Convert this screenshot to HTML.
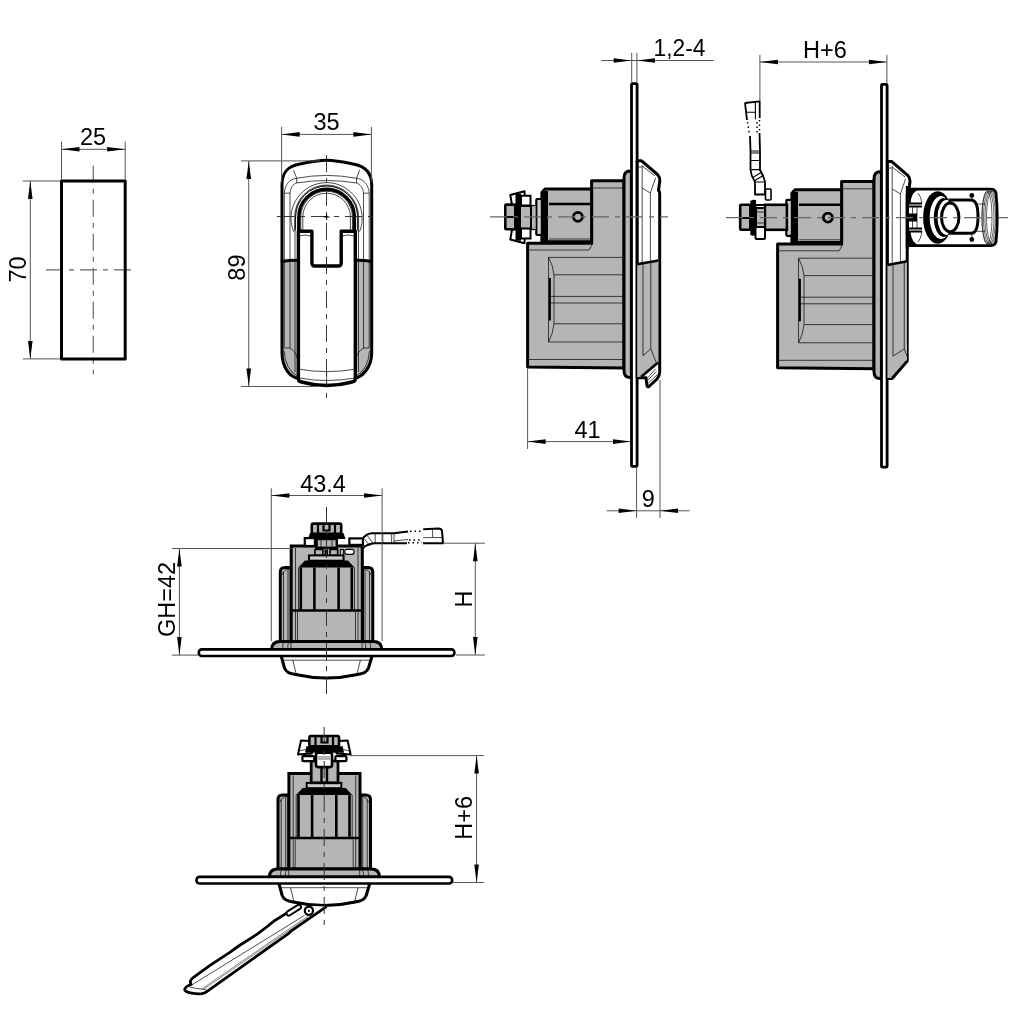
<!DOCTYPE html>
<html><head><meta charset="utf-8">
<style>
html,body{margin:0;padding:0;background:#fff;width:1024px;height:1024px;overflow:hidden}
svg{display:block;will-change:transform}
text{font-family:"Liberation Sans",sans-serif;fill:#000}
.o{fill:none;stroke:#000;stroke-width:3;stroke-linejoin:round;stroke-linecap:round}
.t{fill:none;stroke:#000;stroke-width:0.7}
.d{fill:none;stroke:#555;stroke-width:1}
.c{fill:none;stroke:#666;stroke-width:1.2;stroke-dasharray:17 6 5 6}
.g{fill:#b5b5b5}
.a{fill:#000}
</style></head><body>
<svg width="1024" height="1024" viewBox="0 0 1024 1024">
<defs>
<marker id="ar" viewBox="0 0 18 5" refX="18" refY="2.5" markerWidth="18" markerHeight="5" markerUnits="userSpaceOnUse" orient="auto-start-reverse" overflow="visible"><path d="M18,2.5 L0,0.2 L0,4.8 Z" fill="#000"/></marker>
</defs>
<!-- VIEW 1 -->
<g id="v1">
<path class="c" d="M93.3,165.7 V374.3 M46,269.8 H136"/>
<rect class="o" x="61.5" y="181" width="63.7" height="177.9" fill="none"/>
<path class="d" d="M61.5,141.5 V180 M125.2,141.5 V180 M22.7,181 H60 M22.7,358.9 H60"/>
<path class="d" d="M61.5,149.3 H125.2" marker-start="url(#ar)" marker-end="url(#ar)"/>
<path class="d" d="M30.3,181 V358.9" marker-start="url(#ar)" marker-end="url(#ar)"/>
<text x="93" y="145.2" font-size="23.5" text-anchor="middle">25</text>
<text transform="translate(26.4,269.5) rotate(-90)" font-size="23.5" text-anchor="middle">70</text>
</g>

<!-- VIEW 2 -->
<g id="v2">
<defs><clipPath id="v2low"><rect x="270" y="261" width="28.4" height="130"/><rect x="355.3" y="261" width="30" height="130"/></clipPath>
<path id="v2shell" d="M282,352.8 V185 C282,172 288,166 300,164 C312,161.5 320,160.3 326.6,160.3 C333,160.3 341,161.5 353,164 C365,166 371.7,172 371.7,185 V352.8 C371.7,368 362,377 354.5,378.5 H298.5 C290,377 282,368 282,352.8 Z"/>
</defs>
<use href="#v2shell" fill="#fff"/>
<use href="#v2shell" class="g" clip-path="url(#v2low)"/>
<!-- band inner lines -->
<path class="t" d="M284.3,193 V348 M290,193 V348 M295,231 V372 M358.5,231 V372 M363.5,193 V348 M369.2,193 V348"/>
<path class="t" d="M284.3,348 H289.5 Q296,351 297.5,358.7 M369.2,348 H364 Q357.5,351 356,358.7 M284,351 Q285.5,370 297.5,376 M369.5,351 Q368,370 356,376"/>
<!-- top decorative lines -->
<path class="t" d="M293.5,170 L296.7,178.3 Q326.6,172.5 356.5,178.3 L359.6,170 M296.7,178.3 V183 Q326.6,178 356.5,183 V178.3 M296.7,178.3 C290,179 285,184 284.3,193 M296.7,183 C293,184 290.5,188 290,193 M284.3,193.2 H290 M356.5,178.3 C363,179 368.5,184 369.2,193 M356.5,183 C360,184 363,188 363.5,193 M363.5,193.2 H369.2"/>
<path class="t" d="M293.7,231.8 A35.6,35.6 0 1 1 359.5,231.8"/>
<path class="t" d="M295.5,229 V217 A31.1,31.1 0 0 1 357.7,217 V229 M300.8,231 V217 A25.8,25.8 0 0 1 352.4,217 V231"/>
<path style="stroke-width:3.4" class="o" d="M298.8,231.2 V217 A27.8,27.8 0 0 1 354.4,217 V231.2"/><path class="t" d="M294.6,231 V217 A32,32 0 0 1 358.6,217 V231 M295.6,231 V217 A31,31 0 0 1 357.6,217 V231 M302.8,231 V217 A23.8,23.8 0 0 1 350.4,217 V231"/>
<use style="stroke-width:3" href="#v2shell" class="o"/>
<!-- slider -->
<path fill="#fff" stroke="#000" stroke-width="3.4" stroke-linejoin="round" d="M298.4,231.2 H311.9 V262.7 Q311.9,266 315,266 H338.2 Q341.2,266 341.2,262.7 V231.2 H355.3 V379 Q355.3,381.5 352,382 Q326.6,389 301.5,382 Q298.4,381.5 298.4,379 Z"/>
<path class="t" d="M299,369.2 Q326.6,374 355,369.2 M299,378 Q326.6,383 355,378 M326.6,372 V386"/>
<path class="t" d="M299,236 Q305,234 311,236 M342,236 Q348,234 354.5,236"/>
<!-- band top thick line -->
<path style="stroke-width:3" class="o" d="M282,261.5 Q289,260 298.4,260.2 M355.3,260.2 Q364,260 371.7,261.5"/>

<path style="stroke:#222;stroke-width:0.9" class="c" d="M326.5,155 V398 M277,216.5 H378.5"/>
<path style="stroke:#000" class="d" d="M326.6,214 V220 M323.6,217 H329.6"/>
<!-- dims -->
<path class="d" d="M281.6,126.9 V182 M371.4,126.9 V182 M241,160.9 H320 M241,386.5 H320"/>
<path class="d" d="M281.6,134.4 H371.4" marker-start="url(#ar)" marker-end="url(#ar)"/>
<path class="d" d="M248.75,160.9 V386.5" marker-start="url(#ar)" marker-end="url(#ar)"/>
<text x="326.6" y="129.7" font-size="23.5" text-anchor="middle">35</text>
<text transform="translate(245.4,267.6) rotate(-90)" font-size="23.5" text-anchor="middle">89</text>
</g>

<!-- VIEW 3 & 4 -->
<defs>
<g id="body">
<path class="g" stroke="#000" stroke-width="3" stroke-linejoin="round" d="M527.6,243.3 H591.6 V180.7 H624 V367.9 L527.6,367 Z"/>
<path class="t" d="M528.5,250 H589 L592.5,244 M548.2,257.4 H624 M528,359.5 H624 M548.5,257.4 V342 H624 M548.5,257.4 Q553,265 554,274.8 V323.8 Q553,334 548.5,342 M554,274.8 H624 M554,323.8 H624 M549,296.4 H624 M549,303 H624 M592,188 H624 M624,188 H631 M624,257.4 H631 M624,274.8 H631 M624,296.4 H631 M624,303 H631 M624,323.8 H631 M624,342 H631 M624,359.5 H631"/>
<path stroke="#000" stroke-width="2.2" fill="none" d="M549.8,278 V320.5"/>
<path class="g" stroke="#000" stroke-width="3" stroke-linejoin="round" d="M591.6,189 H545 L541.9,192.5 V241.8 H591.6 Z"/>
<path stroke="#000" stroke-width="5" d="M545.5,191 V241"/>
<path stroke="#000" stroke-width="2.4" d="M549,204 H591.6"/>
<path class="t" d="M549,239 H591.6"/>
<circle cx="577.9" cy="216.8" r="4.5" fill="#b5b5b5" stroke="#000" stroke-width="2.8"/>
<rect x="536.3" y="199" width="5.6" height="36" fill="#ccc" stroke="#000" stroke-width="2.2" rx="1"/>
<path class="g" stroke="#000" stroke-width="3" stroke-linejoin="round" d="M631.4,171 H630 Q624,171 624,178 V370.6 Q624,377.6 630,377.6 H631.4 Z"/>
<rect x="631.5" y="83.6" width="5.6" height="382.8" fill="#fff" stroke="#000" stroke-width="2.8" rx="1"/>
</g>
</defs>
<g id="v3">
<use href="#body"/>
<path fill="#fff" stroke="#000" stroke-width="3" stroke-linejoin="round" d="M637.2,160.8 H641.6 L657.5,174.5 Q660,177 659.8,181 L658.5,190.5 Q659.7,191 659.7,195 V372 Q659.7,376 657,379 L649,386.5 Q647.5,387.5 647,385.5 L646,377.7 H637.2 Z"/>
<path class="g" d="M637.2,264.2 L658.3,260.5 V362.5 L641,377 H637.2 Z"/>
<path stroke="#000" stroke-width="2.6" fill="none" d="M637.2,264.2 L658.3,260.5 M658,362.5 L641,377.1"/>
<path class="t" d="M642.2,165 V264 M650.4,193 V260.5 M642.2,166 L655,176 M642.2,188 L650.4,193 L655.5,178 M643,264 V355.7 M650.8,260.5 V348.8 L656,362 M643,355.7 L650.8,348.8 M637.2,167 H642"/>

<rect x="530.8" y="205.5" width="5.5" height="24" fill="#b5b5b5" stroke="#000" stroke-width="1.2"/>
<rect x="520" y="206" width="11" height="23" fill="#b5b5b5" stroke="#000" stroke-width="2"/>
<path fill="#fff" stroke="#000" stroke-width="2" stroke-linejoin="round" d="M510.3,195 L524.5,191.2 L525,205 L512,205 Z M510.3,239.5 L524.5,243.3 L525,229.5 L512,229.5 Z"/>
<path fill="#fff" stroke="#000" stroke-width="2" d="M521,195.7 H530.5 V205.5 H521 Z M521,228.6 H530.5 V238.5 H521 Z"/>
<rect x="505.3" y="204.6" width="10" height="24.6" fill="#b5b5b5" stroke="#000" stroke-width="2.6" rx="1"/>
<path stroke="#000" stroke-width="2" d="M505.3,217 H515"/>
<rect x="515.5" y="193.7" width="5.5" height="47" fill="#000"/>
<path class="t" d="M648.5,383 L657.5,374.5 M648,380 L656.5,371.5 M647.5,378 L655.5,369"/>
<path class="c" d="M490,216.8 H668"/>
<path class="d" d="M631.7,52.8 V82 M636.9,52.8 V82 M527.6,369 V449 M636.6,468 V518 M660,380 V518"/>
<path class="d" d="M601.2,60.5 H713.7"/>
<path class="a" d="M631.7,60.5 L613.7,58.2 V62.8 Z M636.9,60.5 L654.9,58.2 V62.8 Z"/>
<path class="d" d="M527.6,441.6 H631" marker-start="url(#ar)" marker-end="url(#ar)"/>
<path class="d" d="M606.7,510.8 H689.7"/>
<path class="a" d="M636.6,510.8 L618.6,508.5 V513.1 Z M660,510.8 L678,508.5 V513.1 Z"/>
<text transform="translate(679.5,56.4) scale(0.95,1)" font-size="24" text-anchor="middle">1,2-4</text>
<text x="587.6" y="438.1" font-size="23.5" text-anchor="middle">41</text>
<text x="648.2" y="507.1" font-size="23.5" text-anchor="middle">9</text>
</g>
<g id="v4">
<use href="#body" transform="translate(250,0.8)"/>
<path fill="#fff" stroke="#000" stroke-width="3" stroke-linejoin="round" d="M887.4,161.6 H891.8 L907.7,175.3 Q910.2,177.8 910,181.8 L908.7,191.3 Q907.2,192 907.2,196 V361 L892,378.4 H887.4 Z"/>
<path class="g" d="M887.4,265 L907,261.3 V361 L892,378 H887.4 Z"/>
<path stroke="#000" stroke-width="2.6" fill="none" d="M887.4,265 L907.2,261.3 M907.2,361 L892,378.4"/>
<path class="t" d="M892.2,166 V265 M900.4,194 V261.3 M892.2,167 L905,177 M892.2,189 L900.4,194 L905.5,179 M893,265 V356 M904.25,261.3 V349 L907,356 M893,356 L904.25,349 M887.4,168 H892"/>

<!-- shaft -->
<rect x="764.9" y="204.8" width="22" height="25" fill="#b5b5b5" stroke="#000" stroke-width="2.6"/>
<!-- spacer (white) -->
<rect x="755.5" y="205" width="9.5" height="34" fill="#fff" stroke="#000" stroke-width="2" rx="1"/>
<path fill="#b5b5b5" stroke="#000" stroke-width="2" d="M756,208 H765 V227 H756 Z"/>
<path class="t" d="M756,212 H765 M756,223 H765"/>
<!-- nut -->
<rect x="740.2" y="204.8" width="10.1" height="25" fill="#b5b5b5" stroke="#000" stroke-width="2.6" rx="1"/>
<path stroke="#000" stroke-width="2" d="M740.2,218 H750"/>
<path fill="#000" d="M750.3,201 Q753,199 756,200 V235 Q753,236.5 750.3,235 Z"/>
<!-- lever -->
<path fill="#fff" stroke="#000" stroke-width="1.8" stroke-linejoin="round" d="M744.8,103 L759.7,101.3 V118 M745,103 L747,120 M750,136 L750.5,151 V170 Q751,176 755,182 V194.5 H765 V182 Q764,177 760,170 V151 L759.5,133"/>
<path fill="none" stroke="#000" stroke-width="1.1" d="M746,112.2 H755.4 M755.4,102.5 V119.2 M750.5,151 H760 M750.5,153 H760 M750.5,160.5 H760 M750.5,169.6 H760 M752,178 L762,172 M754,181 L764,175 M755,182 H764.5"/>
<path stroke="#000" stroke-width="1.5" stroke-dasharray="1.5 3" d="M747.5,122 L749.5,135 M759.5,120 V133 M757,122 V134"/>
<rect x="765.5" y="189" width="5.5" height="11" fill="#fff" stroke="#000" stroke-width="1.6" rx="1"/>
<!-- lock cylinder -->
<defs><clipPath id="cyl"><path d="M907.6,189.2 H991 Q995,189.2 996,193 Q998.5,217.5 996,242 Q995,245.6 991,245.6 H907.6 Z"/></clipPath></defs>
<path fill="#fff" d="M907.6,189.2 H991 Q995,189.2 996,193 Q998.5,217.5 996,242 Q995,245.6 991,245.6 H907.6 Z"/>
<g clip-path="url(#cyl)">
<ellipse cx="988" cy="217.5" rx="6" ry="26.5" fill="none" stroke="#000" stroke-width="0.6"/>
<ellipse cx="989.5" cy="217.5" rx="6" ry="26.5" fill="none" stroke="#000" stroke-width="0.6"/>
<ellipse cx="991" cy="217.5" rx="6" ry="26.5" fill="none" stroke="#000" stroke-width="0.6"/>
<ellipse cx="992.5" cy="217.5" rx="6" ry="26.5" fill="none" stroke="#000" stroke-width="0.6"/>
<ellipse cx="987" cy="217.5" rx="5" ry="26" fill="none" stroke="#000" stroke-width="0.6"/>
<path class="t" d="M976,204 H985 M976,231.3 H985"/>
<path fill="#000" d="M907.6,189.2 H920 Q911.5,191 910.5,203 H907.6 Z M907.6,245.6 H920 Q911.5,243.8 910.5,232 H907.6 Z"/>
<path fill="none" stroke="#000" stroke-width="1.8" d="M909,203.5 H922 M909,231.5 H922 M909,206.5 H922 M909,228.5 H922"/>
<path fill="#000" d="M907.6,213.5 H917 V221.5 H907.6 Z"/>
<path class="t" d="M912.5,206.5 V228.5 M917,206.5 V228.5 M918,193 Q921,196 922,203.5 M918,242 Q921,239 922,231.5"/>
</g>
<path fill="none" stroke="#000" stroke-width="2.8" stroke-linejoin="round" d="M907.6,189.2 H991 Q995,189.2 996,193 Q998.5,217.5 996,242 Q995,245.6 991,245.6 H907.6"/>
<path stroke="#000" stroke-width="3.2" d="M907.4,186 V249"/>
<ellipse cx="937.7" cy="217.5" rx="14.6" ry="26.2" fill="#000"/>
<ellipse cx="941" cy="217.5" rx="11.3" ry="21.5" fill="#fff"/>
<ellipse cx="943.8" cy="217.5" rx="10" ry="19.5" fill="#000"/>
<ellipse cx="946.5" cy="217.5" rx="9" ry="17.5" fill="#fff"/>
<path fill="#fff" stroke="#000" stroke-width="3" d="M950,200 H971 Q978,200 978,216.7 Q978,233.3 971,233.3 H950 Z"/>
<ellipse cx="950.2" cy="217.4" rx="8.7" ry="14.4" fill="#fff" stroke="#000" stroke-width="3"/>
<path class="t" d="M971.8,195.4 V200 M971.8,239.5 V233.3"/>
<circle cx="971.8" cy="195.4" r="2.4" fill="#000"/>
<circle cx="971.8" cy="239.5" r="2.4" fill="#000"/>
<path class="c" d="M726,217.7 H1008"/>
<path class="d" d="M759.9,54.9 V101 M886.9,54.9 V83"/>
<path class="d" d="M759.9,62 H886.9" marker-start="url(#ar)" marker-end="url(#ar)"/>
<text x="825" y="58.4" font-size="23.5" text-anchor="middle">H+6</text>
</g>

<!-- VIEW 5 & 6 -->
<defs>
<g id="bodyB">
<path class="g" stroke="#000" stroke-width="3" stroke-linejoin="round" d="M280.3,641.5 V572 Q280.3,567.5 285,567.5 H291.2 V641.5 Z M372.8,641.5 V572 Q372.8,567.5 368,567.5 H362.3 V641.5 Z"/>
<path class="t" d="M283.5,572 V641 M288,570 V641 M369.5,572 V641 M365,570 V641 M282,575 Q284,569 290,569 M371,575 Q369,569 363,569"/>
<rect x="291.2" y="546" width="71.1" height="95.5" class="g" stroke="#000" stroke-width="3"/>
<path class="t" d="M295.5,548 V641 M358,548 V641 M297.5,612 V641 M355.5,612 V641"/>
<path fill="#000" d="M305,560.5 H348 L354.5,567.5 H298.3 Z"/>
<rect x="309" y="555.4" width="34.6" height="5.3" fill="#ccc" stroke="#000" stroke-width="2"/>
<path stroke="#000" stroke-width="2.6" fill="none" d="M300.8,567.5 V610.5 M314.4,567.5 V610.5 M338.6,567.5 V610.5 M351.8,567.5 V610.5 M291.2,610.5 H362.3"/>
<path class="t" d="M298.5,567.5 V610.5 M354.5,567.5 V610.5"/>
<path class="g" stroke="#000" stroke-width="3" stroke-linejoin="round" d="M271.5,649.5 Q272,641.5 280,641.5 H373.5 Q381.5,641.5 381.8,649.5 Z"/>
<path class="t" d="M283,649 Q282,643 285,642 M288,649 Q287,643 290,642 M370.5,649 Q371.5,643 368.5,642 M365.5,649 Q366.5,643 363.5,642 M291,642.5 V649 M362,642.5 V649"/>
<path fill="#fff" stroke="#000" stroke-width="3" stroke-linejoin="round" d="M281.2,656 L284.5,668 Q286.5,673.5 295.5,674.5 Q326.6,681.5 357.5,674.5 Q366.5,673.5 368.5,668 L372.1,656"/>
<path class="t" d="M282.5,660.2 H371 M292.8,660.2 L296.2,674 M360.4,660.2 L357,674"/>
<rect x="198.8" y="649.4" width="255.6" height="6.6" rx="3" fill="#fff" stroke="#000" stroke-width="2.6"/>
</g>
</defs>
<g id="v5">
<use href="#bodyB"/>
<!-- shaft block -->
<rect x="316.6" y="539" width="20.2" height="8.8" fill="#b5b5b5" stroke="#000" stroke-width="2.4"/>
<path class="t" d="M321,539 V547.8 M326.5,539 V547.8 M332,539 V547.8"/>
<path class="g" stroke="#000" stroke-width="1.6" d="M314.9,549.5 H322.8 V555 H314.9 Z M330,549.5 H337.7 V555 H330 Z"/><rect x="324.5" y="549.5" width="3.5" height="5.5" fill="#000"/><rect x="340.4" y="549.5" width="3" height="5.5" fill="#ccc" stroke="#000" stroke-width="1"/>
<rect x="344.8" y="549.3" width="9.2" height="5" fill="#fff" stroke="#000" stroke-width="1.2" rx="2"/>
<!-- tabs -->
<rect x="304.8" y="538.1" width="10.1" height="7.9" fill="#fff" stroke="#000" stroke-width="2.2"/>
<!-- lever -->
<path fill="#fff" d="M362.9,538.4 Q366,534 371.6,533.2 H394 L440,528.5 L443,543.3 H374 Q366,544.5 362.9,548.4 Z"/>
<path fill="none" stroke="#000" stroke-width="2" stroke-linejoin="round" d="M362.9,538.4 Q366,534 371.6,533.2 H394 L408,531.5 M423.2,529.3 L438.5,528.5 Q441.5,528.5 442,531 L443,543.3 H423 M407,543.3 H374 Q366,544.5 362.9,548.4"/>
<rect x="349.4" y="538.4" width="13.5" height="6.5" fill="#fff" stroke="#000" stroke-width="2.2"/>
<path class="t" d="M375.2,533.2 V543.3 M382.8,533.2 V543.3 M391.6,533.2 V543.3 M394,533 V543.3 M432.6,529 V537.5 H442 M394,541 L408,539.5 M423,537.7 L432.6,537.5 M364.5,539 L370,546 M367.5,536 L373,543"/>
<path stroke="#000" stroke-width="1.6" stroke-dasharray="1.5 3" fill="none" d="M410,531.2 H422 M409,540 H422 M408,542.8 H422"/>
<!-- nut -->
<rect x="311.8" y="523.6" width="29.4" height="10.1" fill="#b5b5b5" stroke="#000" stroke-width="2.6" rx="1.5"/>
<path stroke="#000" stroke-width="2.2" fill="none" d="M318,525 V533 M335,525 V533 M323.5,525 V530.5 H329.5 V525"/>
<path fill="#000" d="M310,533 H343.5 L345.5,539 H308 Z"/>
<path style="stroke:#333;stroke-width:1" class="c" d="M326.5,507 V700"/>
<!-- dims -->
<path class="d" d="M271.3,488.3 V641 M382.1,488.3 V641 M171.9,548.5 H291 M171.9,655.1 H198 M443,543.2 H485 M456,655 H485"/>
<path class="d" d="M271.3,495.5 H382.1" marker-start="url(#ar)" marker-end="url(#ar)"/>
<path class="d" d="M179.4,548.5 V655.1" marker-start="url(#ar)" marker-end="url(#ar)"/>
<path class="d" d="M475.3,543.2 V655" marker-start="url(#ar)" marker-end="url(#ar)"/>
<text x="323" y="491.9" font-size="23.5" text-anchor="middle">43.4</text>
<text transform="translate(175.3,599.4) rotate(-90)" font-size="23.5" text-anchor="middle">GH=42</text>
<text transform="translate(472,598.9) rotate(-90)" font-size="23.5" text-anchor="middle">H</text>
</g>
<g id="v6">
<use href="#bodyB" transform="translate(-2.3,227.5)"/>
<!-- lever under knob -->
<path fill="#fff" stroke="#000" stroke-width="2.8" stroke-linejoin="round" d="M300.1,905.9 L285.5,913.9 L275.2,920.2 L267.9,926 L257.6,933.8 L250.3,938.6 L238.6,946 L229.8,952.3 L209.3,965.9 L193.2,977.6 Q190,980 190.3,982 L191,984.5 Q186,986 184.8,989 Q184,992 191.7,993.2 Q197,994 202,993.7 Q205,993 207.8,990.8 L288.4,933.7 L291.3,930.8 L326.5,906.6"/>
<path class="t" d="M191.7,985 L304.5,915.4 M188,986.5 Q196,989 206,989.5"/>
<path fill="none" stroke="#555" stroke-width="0.7" d="M203.4,989.4 L309,916.8 M201.8,988.9 L307.6,916.3"/>
<path d="M288.7,913.3 L298.8,907" stroke="#000" stroke-width="6.5" stroke-linecap="round"/>
<path d="M288.7,913.3 L298.8,907" stroke="#fff" stroke-width="2.6" stroke-linecap="round"/>
<circle cx="308.9" cy="910.8" r="4.1" fill="#fff" stroke="#000" stroke-width="2.2"/>
<circle cx="308.9" cy="910.8" r="1.1" fill="#000"/>
<!-- shaft -->
<rect x="311.2" y="761" width="26.8" height="21.8" fill="#b5b5b5" stroke="#000" stroke-width="2.8"/>
<path stroke="#000" stroke-width="2.4" d="M321.5,767 V782.8 M327,767 V782.8"/>
<!-- middle block -->
<rect x="316" y="752.8" width="16" height="14.3" fill="#fff" stroke="#000" stroke-width="2.6" rx="2"/>
<path class="g" d="M317.5,756 H330.5 V760 H317.5 Z"/>
<!-- lower tabs -->
<rect x="302.4" y="756.1" width="11.8" height="5.1" fill="#fff" stroke="#000" stroke-width="2.2" rx="1"/>
<rect x="335.4" y="756.1" width="11" height="5.1" fill="#fff" stroke="#000" stroke-width="2.2" rx="1"/>
<!-- star washer wings -->
<path fill="#fff" stroke="#000" stroke-width="2" stroke-linejoin="round" d="M298,754.5 L301,740.4 L310,741 L312,753.5 Z M350.6,754.5 L347.6,740.4 L338.6,741 L336.6,753.5 Z"/>
<path class="t" d="M299,751 L312,748 M349.6,751 L336.6,748"/>
<!-- nut -->
<rect x="309.4" y="736" width="29.6" height="10.2" fill="#b5b5b5" stroke="#000" stroke-width="2.6" rx="1.5"/>
<path stroke="#000" stroke-width="2.2" fill="none" d="M315.5,737 V745 M333,737 V745 M321.5,737 V742.5 H327.5 V737"/>
<path fill="#000" d="M306.5,746.2 H342.7 L344,752.8 H305 Z"/>
<path style="stroke:#333;stroke-width:1" class="c" d="M324.2,727 V930"/>
<!-- dims -->
<path class="d" d="M350,755.6 H484 M453,882.5 H484"/>
<path class="d" d="M476.6,755.6 V882.5" marker-start="url(#ar)" marker-end="url(#ar)"/>
<text transform="translate(472.3,817.8) rotate(-90)" font-size="23.5" text-anchor="middle">H+6</text>
</g>
</svg>
</body></html>
